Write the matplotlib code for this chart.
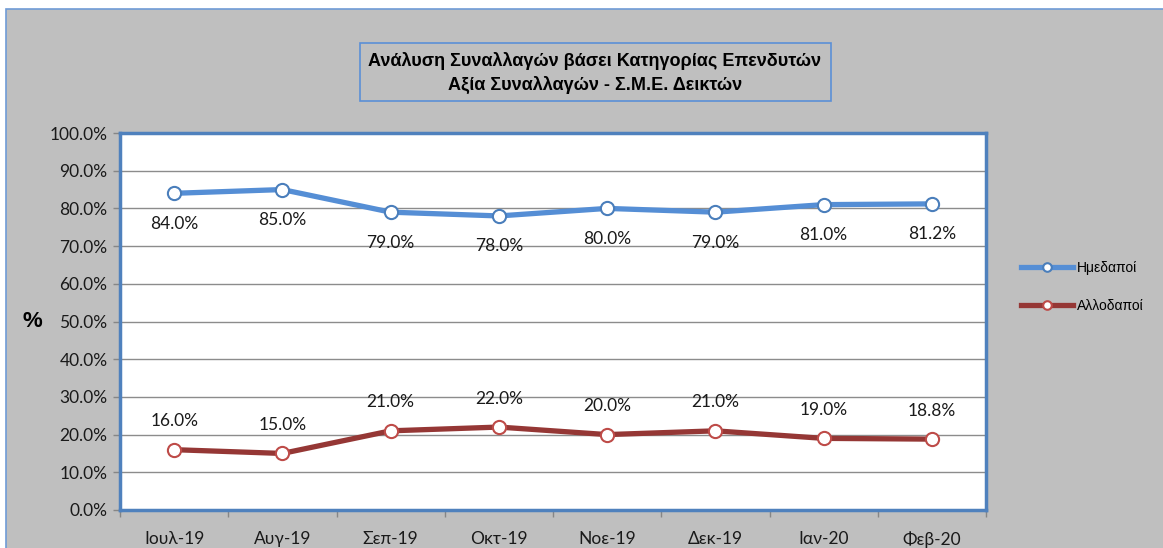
import matplotlib
matplotlib.use('Agg')
import matplotlib.pyplot as plt
from matplotlib.patches import Rectangle
from matplotlib.ticker import FixedLocator, PercentFormatter

# data
months = ['Ιουλ-19', 'Αυγ-19', 'Σεπ-19', 'Οκτ-19', 'Νοε-19', 'Δεκ-19', 'Ιαν-20', 'Φεβ-20']
domestic = [84.0, 85.0, 79.0, 78.0, 80.0, 79.0, 81.0, 81.2]
foreign = [16.0, 15.0, 21.0, 22.0, 20.0, 21.0, 19.0, 18.8]
series_names = ['Ημεδαποί', 'Αλλοδαποί']

W, H = 1163, 548
plt.rcParams['font.family'] = ['Lato', 'DejaVu Sans']
narrow = ['Liberation Sans Narrow', 'Liberation Sans', 'DejaVu Sans']

fig = plt.figure(figsize=(W / 100, H / 100), dpi=100, facecolor='white')

# grey chart area with light blue frame
fig.patches.append(Rectangle((6 / W, -0.02), 1.1, 1 - 9 / H + 0.02, transform=fig.transFigure,
                             facecolor='#bfbfbf', edgecolor='#6f9bd6', lw=1.2, zorder=-2))

ax = fig.add_axes([120 / W, 1 - 510 / H, 866 / W, (510 - 133) / H])
ax.set_facecolor('white')
x = list(range(len(months)))

ax.plot(x, domestic, color='#558ed5', lw=3.8, marker='o', ms=9.5, mfc='white',
        mec='#4a7ebb', mew=1.5, label=series_names[0], zorder=3)
ax.plot(x, foreign, color='#953735', lw=3.8, marker='o', ms=9.5, mfc='white',
        mec='#be4b48', mew=1.5, label=series_names[1], zorder=3)

for xi, v in zip(x, domestic):
    ax.annotate(f'{v:.1f}%', (xi, v), xytext=(0, -22), textcoords='offset points',
                ha='center', va='center', fontsize=12.5, color='#1a1a1a')
for xi, v in zip(x, foreign):
    ax.annotate(f'{v:.1f}%', (xi, v), xytext=(0, 20.5), textcoords='offset points',
                ha='center', va='center', fontsize=12.5, color='#1a1a1a')

ax.set_xlim(-0.5, len(months) - 0.5)
ax.set_ylim(0, 100)
ax.yaxis.set_major_locator(FixedLocator(range(0, 101, 10)))
ax.yaxis.set_major_formatter(PercentFormatter(decimals=1))
ax.set_xticks(x)
ax.set_xticklabels(months)
ax.xaxis.set_minor_locator(FixedLocator([i - 0.5 for i in range(len(months) + 1)]))
ax.tick_params(axis='x', which='major', length=0, labelsize=12.5, pad=15)
ax.tick_params(axis='x', which='minor', length=5, color='#868686', width=1)
ax.tick_params(axis='y', length=5, color='#868686', width=1, labelsize=12.5, pad=4)
for lab in ax.get_xticklabels() + ax.get_yticklabels():
    lab.set_color('#1a1a1a')

ax.grid(axis='y', color='#8c8c8c', lw=1)
ax.set_axisbelow(True)
for s in ax.spines.values():
    s.set_color('#4f81bd')
    s.set_linewidth(2.5)

ax.set_ylabel('%', fontsize=16, fontweight='bold', rotation=0, labelpad=12, va='center',
              family=narrow)

ax.legend(loc='center left', bbox_to_anchor=(1008 / W, 1 - 287 / H), bbox_transform=fig.transFigure,
          frameon=False, handlelength=3.8, handletextpad=0.25, labelspacing=1.75, markerscale=0.65,
          prop={'family': narrow, 'size': 10})

# title box
fig.patches.append(Rectangle((360 / W, 1 - 101 / H), 471 / W, 58 / H, transform=fig.transFigure,
                             facecolor='#bfbfbf', edgecolor='#5b8fd6', lw=1.2, zorder=-1))
fig.text(595 / W, 1 - 73 / H, 'Ανάλυση Συναλλαγών βάσει Κατηγορίας Επενδυτών\nΑξία Συναλλαγών - Σ.Μ.Ε. Δεικτών',
         ha='center', va='center', fontsize=13, fontweight='bold', family=narrow,
         linespacing=1.45, zorder=2)

fig.savefig('out.png', dpi=100, facecolor=fig.get_facecolor())
